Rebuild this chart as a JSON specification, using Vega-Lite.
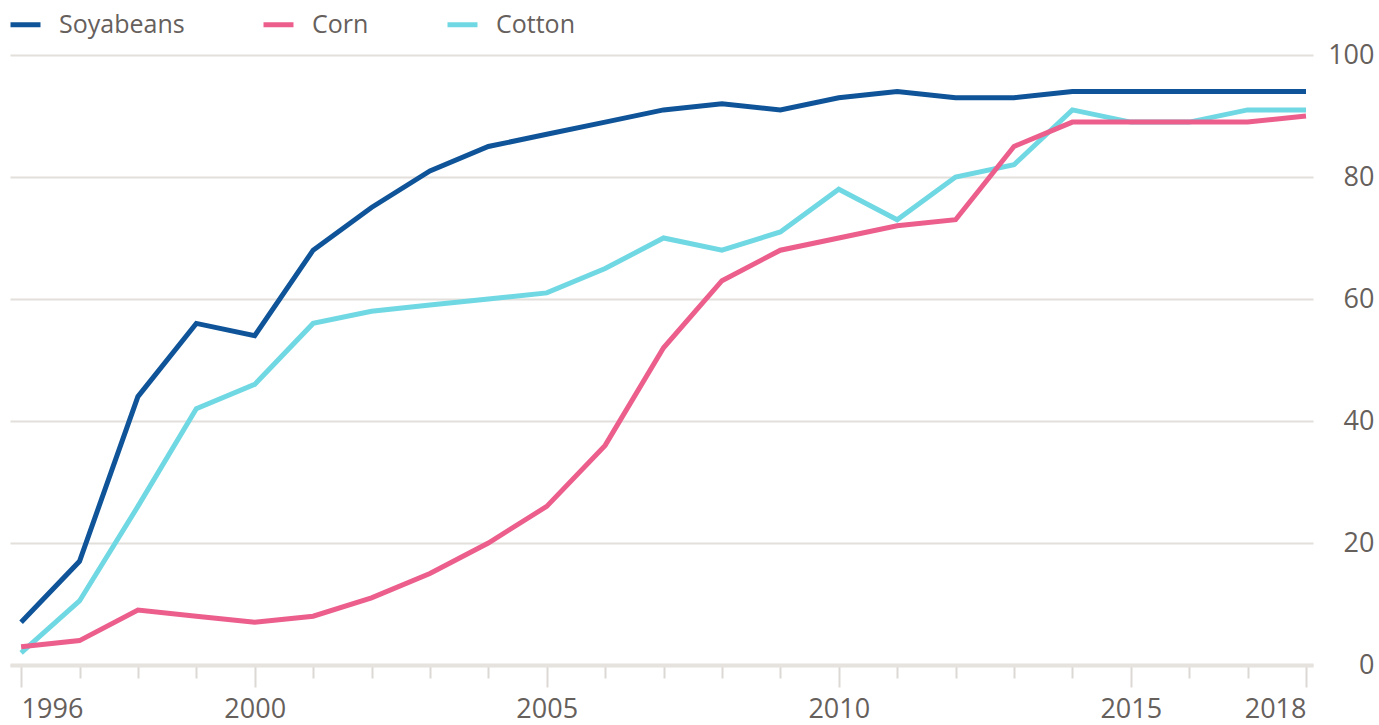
{
  "$schema": "https://vega.github.io/schema/vega-lite/v6.json",
  "width": 1303,
  "height": 610,
  "autosize": {"type": "none"},
  "padding": {"left": 10, "top": 55, "right": 66, "bottom": 60},
  "background": "white",
  "config": {
    "view": {"stroke": null},
    "font": "Open Sans",
    "axis": {"labelColor": "#66605c", "labelFont": "Open Sans", "labelFontSize": 27}
  },
  "data": {
    "values": [
      {"year": 1996, "crop": "Soyabeans", "pct": 7},
      {"year": 1997, "crop": "Soyabeans", "pct": 17},
      {"year": 1998, "crop": "Soyabeans", "pct": 44},
      {"year": 1999, "crop": "Soyabeans", "pct": 56},
      {"year": 2000, "crop": "Soyabeans", "pct": 54},
      {"year": 2001, "crop": "Soyabeans", "pct": 68},
      {"year": 2002, "crop": "Soyabeans", "pct": 75},
      {"year": 2003, "crop": "Soyabeans", "pct": 81},
      {"year": 2004, "crop": "Soyabeans", "pct": 85},
      {"year": 2005, "crop": "Soyabeans", "pct": 87},
      {"year": 2006, "crop": "Soyabeans", "pct": 89},
      {"year": 2007, "crop": "Soyabeans", "pct": 91},
      {"year": 2008, "crop": "Soyabeans", "pct": 92},
      {"year": 2009, "crop": "Soyabeans", "pct": 91},
      {"year": 2010, "crop": "Soyabeans", "pct": 93},
      {"year": 2011, "crop": "Soyabeans", "pct": 94},
      {"year": 2012, "crop": "Soyabeans", "pct": 93},
      {"year": 2013, "crop": "Soyabeans", "pct": 93},
      {"year": 2014, "crop": "Soyabeans", "pct": 94},
      {"year": 2015, "crop": "Soyabeans", "pct": 94},
      {"year": 2016, "crop": "Soyabeans", "pct": 94},
      {"year": 2017, "crop": "Soyabeans", "pct": 94},
      {"year": 2018, "crop": "Soyabeans", "pct": 94},
      {"year": 1996, "crop": "Cotton", "pct": 2},
      {"year": 1997, "crop": "Cotton", "pct": 10.5},
      {"year": 1998, "crop": "Cotton", "pct": 26},
      {"year": 1999, "crop": "Cotton", "pct": 42},
      {"year": 2000, "crop": "Cotton", "pct": 46},
      {"year": 2001, "crop": "Cotton", "pct": 56},
      {"year": 2002, "crop": "Cotton", "pct": 58},
      {"year": 2003, "crop": "Cotton", "pct": 59},
      {"year": 2004, "crop": "Cotton", "pct": 60},
      {"year": 2005, "crop": "Cotton", "pct": 61},
      {"year": 2006, "crop": "Cotton", "pct": 65},
      {"year": 2007, "crop": "Cotton", "pct": 70},
      {"year": 2008, "crop": "Cotton", "pct": 68},
      {"year": 2009, "crop": "Cotton", "pct": 71},
      {"year": 2010, "crop": "Cotton", "pct": 78},
      {"year": 2011, "crop": "Cotton", "pct": 73},
      {"year": 2012, "crop": "Cotton", "pct": 80},
      {"year": 2013, "crop": "Cotton", "pct": 82},
      {"year": 2014, "crop": "Cotton", "pct": 91},
      {"year": 2015, "crop": "Cotton", "pct": 89},
      {"year": 2016, "crop": "Cotton", "pct": 89},
      {"year": 2017, "crop": "Cotton", "pct": 91},
      {"year": 2018, "crop": "Cotton", "pct": 91},
      {"year": 1996, "crop": "Corn", "pct": 3},
      {"year": 1997, "crop": "Corn", "pct": 4},
      {"year": 1998, "crop": "Corn", "pct": 9},
      {"year": 1999, "crop": "Corn", "pct": 8},
      {"year": 2000, "crop": "Corn", "pct": 7},
      {"year": 2001, "crop": "Corn", "pct": 8},
      {"year": 2002, "crop": "Corn", "pct": 11},
      {"year": 2003, "crop": "Corn", "pct": 15},
      {"year": 2004, "crop": "Corn", "pct": 20},
      {"year": 2005, "crop": "Corn", "pct": 26},
      {"year": 2006, "crop": "Corn", "pct": 36},
      {"year": 2007, "crop": "Corn", "pct": 52},
      {"year": 2008, "crop": "Corn", "pct": 63},
      {"year": 2009, "crop": "Corn", "pct": 68},
      {"year": 2010, "crop": "Corn", "pct": 70},
      {"year": 2011, "crop": "Corn", "pct": 72},
      {"year": 2012, "crop": "Corn", "pct": 73},
      {"year": 2013, "crop": "Corn", "pct": 85},
      {"year": 2014, "crop": "Corn", "pct": 89},
      {"year": 2015, "crop": "Corn", "pct": 89},
      {"year": 2016, "crop": "Corn", "pct": 89},
      {"year": 2017, "crop": "Corn", "pct": 89},
      {"year": 2018, "crop": "Corn", "pct": 90}
    ]
  },
  "mark": {"type": "line", "strokeWidth": 5, "strokeCap": "butt", "strokeJoin": "miter"},
  "encoding": {
    "x": {
      "field": "year",
      "type": "quantitative",
      "scale": {"domain": [1995.81, 2018.12], "nice": false, "zero": false},
      "axis": {
        "title": null,
        "values": [1996,1997,1998,1999,2000,2001,2002,2003,2004,2005,2006,2007,2008,2009,2010,2011,2012,2013,2014,2015,2016,2017,2018],
        "format": "d",
        "labelExpr": "indexof([1996,2000,2005,2010,2015,2018], datum.value) >= 0 ? datum.label : ''",
        "labelOverlap": false,
        "labelAlign": {"condition": [{"test": "datum.value == 1996", "value": "left"}, {"test": "datum.value == 2018", "value": "right"}], "value": "center"},
        "labelPadding": 9,
        "grid": false,
        "domain": true,
        "domainColor": "#e6e2de",
        "domainWidth": 4,
        "tickColor": "#dcd8d4",
        "tickWidth": 2,
        "tickSize": {"condition": {"test": "indexof([1996,2000,2005,2010,2015,2018], datum.value) >= 0", "value": 22}, "value": 13}
      }
    },
    "y": {
      "field": "pct",
      "type": "quantitative",
      "scale": {"domain": [0, 100], "nice": false},
      "axis": {
        "title": null,
        "orient": "right",
        "values": [0, 20, 40, 60, 80, 100],
        "domain": false,
        "ticks": false,
        "labelAlign": "right",
        "labelBaseline": "middle",
        "labelPadding": 61,
        "gridColor": "#e3dfdb",
        "gridWidth": 2
      }
    },
    "color": {
      "field": "crop",
      "type": "nominal",
      "sort": null,
      "scale": {"domain": ["Soyabeans", "Corn", "Cotton"], "range": ["#0f5499", "#ec5e8c", "#70d8e3"]},
      "legend": {
        "title": null,
        "orient": "none",
        "legendX": -2,
        "legendY": -48,
        "direction": "horizontal",
        "symbolType": "stroke",
        "symbolStrokeWidth": 5,
        "symbolSize": 900,
        "labelFontSize": 25,
        "labelColor": "#66605c",
        "labelFont": "Open Sans",
        "labelOffset": 16,
        "columnPadding": 68
      }
    }
  }
}
